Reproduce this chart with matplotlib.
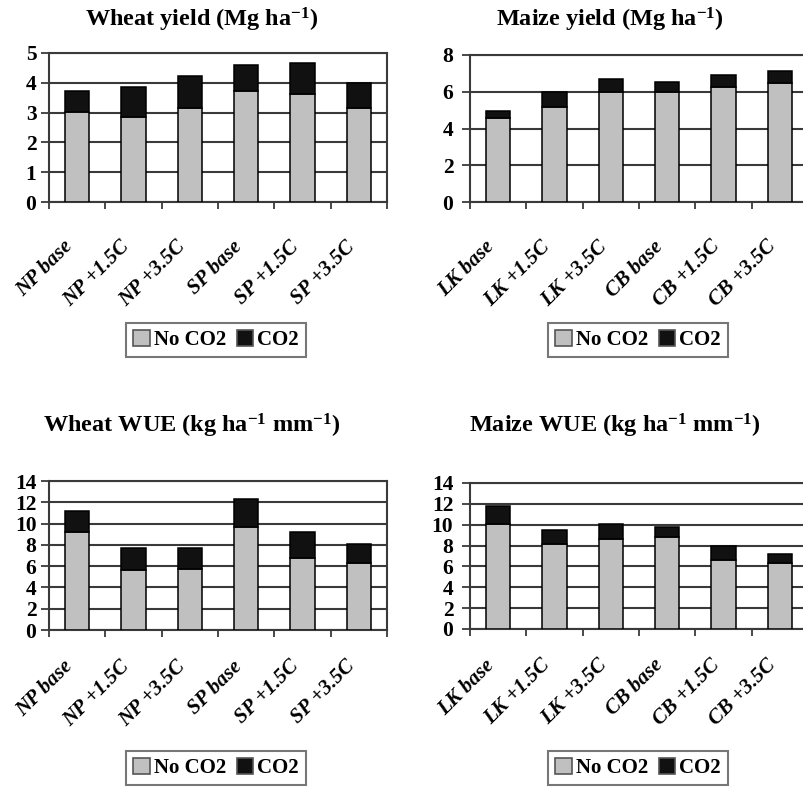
import matplotlib
matplotlib.use("Agg")
import matplotlib.pyplot as plt
from matplotlib.patches import Patch
from matplotlib.ticker import MultipleLocator, FixedLocator

# ---------------- data ----------------
wheat_cats = ['NP base', 'NP +1.5C', 'NP +3.5C', 'SP base', 'SP +1.5C', 'SP +3.5C']
maize_cats = ['LK base', 'LK +1.5C', 'LK +3.5C', 'CB base', 'CB +1.5C', 'CB +3.5C']

wheat_yield_noco2 = [3.03, 2.85, 3.15, 3.71, 3.62, 3.15]
wheat_yield_co2 = [0.68, 1.01, 1.07, 0.90, 1.04, 0.83]

maize_yield_noco2 = [4.55, 5.18, 6.00, 6.00, 6.27, 6.49]
maize_yield_co2 = [0.41, 0.78, 0.71, 0.53, 0.66, 0.64]

wheat_wue_noco2 = [9.18, 5.64, 5.73, 9.71, 6.80, 6.26]
wheat_wue_co2 = [2.03, 2.03, 1.94, 2.57, 2.44, 1.85]

maize_wue_noco2 = [10.10, 8.15, 8.63, 8.82, 6.62, 6.33]
maize_wue_co2 = [1.73, 1.31, 1.47, 0.93, 1.37, 0.89]

series_labels = ['No CO2', 'CO2']

# ---------------- style ----------------
SERIF = 'Liberation Serif'
plt.rcParams['font.family'] = [SERIF, 'DejaVu Serif']
plt.rcParams['font.weight'] = 'bold'
plt.rcParams['mathtext.fontset'] = 'custom'
plt.rcParams['mathtext.rm'] = 'Liberation Serif:bold'
plt.rcParams['mathtext.bf'] = 'Liberation Serif:bold'
plt.rcParams['mathtext.it'] = 'Liberation Serif:bold:italic'

GRAY = '#c0c0c0'
BLACK = '#111111'
LINE = '#3a3a3a'

W, H = 804, 787
fig = plt.figure(figsize=(W / 100, H / 100), dpi=100)


def px_axes(left, top, right, bottom):
    return fig.add_axes([left / W, 1 - bottom / H, (right - left) / W, (bottom - top) / H])


def panel(ax, cats, noco2, co2, ymax, ystep, xpad, ypad):
    x = list(range(len(cats)))
    ax.set_axisbelow(True)
    ax.bar(x, noco2, width=0.43, color=GRAY, edgecolor='black', linewidth=1.1, zorder=3)
    ax.bar(x, co2, bottom=noco2, width=0.43, color=BLACK, edgecolor='black', linewidth=1.1, zorder=3)
    ax.set_xlim(-0.5, len(cats) - 0.5)
    ax.set_ylim(0, ymax)
    ax.yaxis.set_major_locator(MultipleLocator(ystep))
    ax.grid(axis='y', color=LINE, linewidth=1.5, zorder=0)
    ax.set_xticks(x)
    ax.set_xticklabels(cats, rotation=45, ha='right', va='top',
                       fontsize=15, fontweight='bold', fontstyle='italic')
    ax.xaxis.set_minor_locator(FixedLocator([i - 0.5 for i in range(len(cats) + 1)]))
    ax.tick_params(axis='x', which='major', length=0, pad=xpad)
    ax.tick_params(axis='x', which='minor', length=5, width=1.3, color=LINE, direction='out')
    ax.tick_params(axis='y', length=6, width=1.3, color=LINE, direction='out', pad=ypad,
                   labelsize=15.5)
    for s in ax.spines.values():
        s.set_color(LINE)
        s.set_linewidth(1.5)


ax1 = px_axes(49, 53, 387, 202)
panel(ax1, wheat_cats, wheat_yield_noco2, wheat_yield_co2, 5, 1, 25, 3)
ax2 = px_axes(470, 55, 808, 202)
panel(ax2, maize_cats, maize_yield_noco2, maize_yield_co2, 8, 2, 25, 6)
ax3 = px_axes(49, 481, 387, 630)
panel(ax3, wheat_cats, wheat_wue_noco2, wheat_wue_co2, 14, 2, 19, 3)
ax4 = px_axes(470, 483, 808, 629)
panel(ax4, maize_cats, maize_wue_noco2, maize_wue_co2, 14, 2, 19, 6)

titles = [
    ('Wheat yield (Mg ha$^{-1}$)', 202, 26),
    ('Maize yield (Mg ha$^{-1}$)', 610, 26),
    ('Wheat WUE (kg ha$^{-1}$ mm$^{-1}$)', 192, 432),
    ('Maize WUE (kg ha$^{-1}$ mm$^{-1}$)', 615, 433),
]
for t, xp, yp in titles:
    fig.text(xp / W, 1 - yp / H, t, ha='center', va='baseline', fontsize=17.5, fontweight='bold')

handles = [Patch(facecolor=GRAY, edgecolor='#555555', linewidth=1.2),
           Patch(facecolor=BLACK, edgecolor='#555555', linewidth=1.2)]
for cx, cy in [(216, 340), (638, 340), (216, 768), (638, 768)]:
    leg = fig.legend(handles, series_labels, loc='center', bbox_to_anchor=(cx / W, 1 - cy / H),
                     ncol=2, fancybox=False, frameon=True, edgecolor='#555555',
                     prop={'family': SERIF, 'weight': 'bold', 'size': 15},
                     handlelength=0.8, handleheight=0.8, handletextpad=0.2,
                     columnspacing=0.5, borderpad=0.35)
    leg.get_frame().set_linewidth(1.5)

fig.savefig('out.png', dpi=100)
